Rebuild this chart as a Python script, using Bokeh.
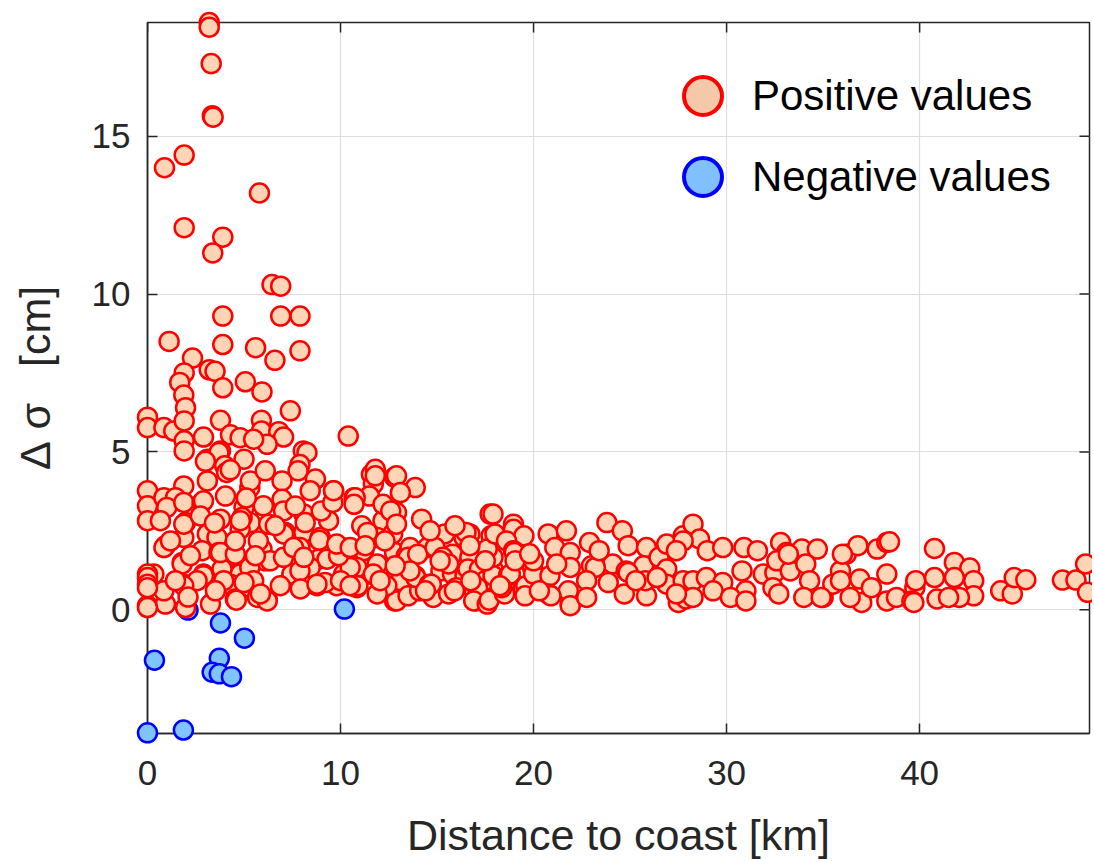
import math
from bokeh.plotting import figure
from bokeh.models import (Range1d, FixedTicker, Legend, LegendItem,
                          ColumnDataSource, CDSView, IndexFilter)
from bokeh.embed import file_html
from bokeh.resources import INLINE

# ---------------- data ----------------
pos_x = [
    # outliers / upper part
    3.2, 3.2, 3.3, 3.36, 3.4, 1.9, 0.88, 5.8, 1.9, 3.9, 3.38, 6.45, 6.9, 3.9, 6.9, 7.9,
    1.12, 3.9, 5.6, 7.9, 6.6, 2.33, 3.2, 3.5, 1.9, 1.67, 5.07, 3.9, 5.93, 1.88, 1.97, 7.4,
    # 5 - 6.5
    0.0, 0.0, 0.85, 1.36, 1.9, 1.9, 1.9, 2.9, 3.78, 4.3, 4.8, 5.9, 5.9, 6.8, 7.05, 6.2,
    5.5, 8.07, 3.78, 10.4, 8.26,
    # 3 - 5
    3.1, 3.7, 4.0, 4.1, 5.0, 7.9, 7.8, 3.1, 1.88, 6.97, 5.3, 0.0, 0.0, 0.0, 0.85, 1.45,
    1.0, 1.88, 2.83, 4.04, 5.0, 6.97, 6.0, 8.7, 9.64, 3.0, 2.9, 7.05, 8.1,
    # 2 - 3
    3.78, 5.33, 1.97, 1.88, 3.1, 4.9, 6.28, 1.88, 3.6, 4.8, 7.14, 8.1, 8.95, 9.38, 8.17,
    9.0, 9.6, 0.93, 7.05,
    # 1 - 2
    0.85, 2.83, 3.7, 4.47, 5.85, 7.9, 1.8, 0.33, 0.0, 2.9, 3.95, 5.25, 6.1, 7.5, 4.8, 5.93,
    8.86, 9.3, 7.48, 3.86, 3.78, 4.55, 6.36, 7.05, 7.57, 8.43, 7.9, 5.3, 0.0, 2.9, 1.8,
    # 0 - 1
    0.0, 1.88, 5.33, 4.3, 0.0, 0.93, 1.97, 3.26, 4.55, 6.2, 5.7, 0.85, 2.57, 8.78, 9.8,
    5.5, 6.2, 4.6, 0.0, 0.0, 1.88, 3.95, 5.0, 5.85, 9.2, 2.1,
    # extra, 0 - 10 km
    4.29, 5.33, 6.1, 5.12, 2.74, 3.47, 5.74, 1.19, 2.22, 4.55, 6.62, 7.66, 8.43, 5.59,
    6.88, 3.52, 7.92, 0.67, 1.45, 4.81,
    # 8 - 14 km
    10.0, 10.4, 10.85, 11.2, 11.5, 10.7, 11.1, 11.6, 11.7, 11.5, 12.2, 12.8, 12.8, 12.8,
    12.66, 12.8, 10.16, 10.85, 11.8, 11.8, 12.9, 13.87, 13.1, 10.76, 12.9, 14.2, 11.9,
    12.7, 10.07, 13.4, 11.9, 13.87, 10.9, 11.7, 12.9, 13.1, 10.5, 8.1, 8.9, 9.9, 10.0,
    12.4, 11.9, 13.5, 14.1, 10.7, 12.2, 12.6, 12.9, 11.4, 12.3, 13.6, 14.5, 9.8, 10.5,
    13.5, 14.0, 13.9, 8.78, 9.64,
    # 14 - 20 km
    17.75, 15.4, 16.4, 16.7, 17.8, 14.9, 15.8, 16.7, 17.9, 16.0, 14.6, 17.0, 14.8, 16.7,
    15.3, 15.2, 15.8, 16.45, 16.6, 17.2, 17.5, 17.1, 17.9, 17.6, 16.9, 17.6, 16.0, 15.6,
    16.5, 15.6, 14.7, 17.7, 17.9, 18.7, 18.5, 16.75, 17.9, 18.96, 18.96, 19.5, 18.0, 18.6,
    18.96, 18.8, 18.35, 19.47, 19.0, 19.95, 19.6,
    # extra, 10 - 20 km
    12.05, 13.6, 14.4, 15.16, 15.9, 16.7, 17.5, 18.26, 19.04, 19.56, 12.83, 11.28, 10.5,
    14.64, 15.93,
    # 20 - 30 km
    20.0, 20.0, 20.76, 21.7, 21.1, 21.9, 20.85, 20.76, 21.9, 21.9, 21.8, 22.9, 23.0, 23.8,
    24.1, 23.87, 24.6, 24.9, 24.8, 24.7, 25.85, 25.7, 25.85, 26.5, 26.9, 26.9, 26.9, 27.75,
    27.6, 27.75, 20.9, 21.9, 23.2, 24.9, 25.8, 27.5, 28.26, 28.6, 27.75, 29.0, 29.8, 28.26,
    28.95, 29.8, 27.9, 28.26, 29.3, 20.3, 19.8, 21.2, 22.75, 23.4, 22.75, 25.3, 27.4, 26.4,
    27.4,
    # 30 - 40 km
    30.9, 31.6, 32.8, 33.1, 33.9, 34.7, 36.2, 36.8, 37.8, 38.3, 30.8, 31.0, 31.9, 32.5,
    32.6, 33.3, 34.1, 34.3, 34.0, 35.0, 35.5, 35.9, 36.9, 37.0, 36.4, 37.5, 38.3, 30.2,
    31.0, 32.4, 32.7, 35.9, 36.0, 38.3, 38.8, 38.44, 39.75, 39.6, 33.2, 34.9,
    # 40 - 49 km
    40.77, 41.8, 42.6, 39.8, 40.77, 41.8, 42.8, 42.8, 42.06, 40.9, 39.7, 41.5, 44.2, 44.8,
    44.9, 45.5, 47.4, 48.1, 48.6, 48.7,
]
pos_y = [
    18.6, 18.45, 17.3, 15.65, 15.6, 14.4, 14.0, 13.2, 12.1, 11.8, 11.3, 10.3, 10.25, 9.3, 9.3, 9.3,
    8.5, 8.4, 8.3, 8.2, 7.9, 7.97, 7.6, 7.55, 7.5, 7.2, 7.22, 7.03, 6.9, 6.8, 6.4, 6.3,
    6.1, 5.77, 5.77, 5.66, 5.98, 5.35, 5.03, 5.47, 6.0, 5.54, 5.45, 6.0, 5.66, 5.64, 5.47, 5.24,
    5.4, 5.03, 5.03, 5.5, 4.98,
    4.77, 4.98, 4.56, 4.35, 4.77, 4.6, 4.4, 4.08, 3.92, 4.08, 3.87, 3.77, 3.29, 2.82, 3.55, 3.55,
    3.24, 3.4, 3.4, 3.6, 3.24, 3.5, 3.29, 4.14, 3.77, 4.7, 3.45, 3.13, 3.03,
    2.87, 2.76, 2.76, 2.29, 2.4, 2.92, 2.71, 2.71, 2.29, 2.55, 2.45, 2.45, 2.29, 2.82, 2.76,
    3.13, 3.4, 2.03, 2.4,
    1.97, 1.87, 1.81, 1.71, 1.87, 1.97, 1.5, 1.13, 1.13, 1.13, 1.23, 1.39, 1.55, 1.13, 1.13, 1.92,
    1.6, 1.6, 1.13, 1.29, 1.81, 1.76, 1.55, 1.66, 1.97, 1.34, 1.23, 1.34, 1.02, 1.08, 1.45,
    0.81, 0.81, 0.7, 0.81, 0.13, 0.18, 0.07, 0.18, 0.34, 0.34, 0.39, 0.6, 0.92, 0.76, 0.76,
    0.92, 0.28, 0.3, 0.07, 0.7, 0.76, 0.92, 0.86, 0.5, 0.86, 0.4,
    4.43, 4.08, 4.4, 3.54, 2.97, 2.75, 2.18, 2.18, 1.71, 2.18, 2.66, 3.29, 3.77, 1.71,
    0.76, 0.6, 0.66, 2.82, 0.92, 2.82,
    1.87, 1.81, 0.7, 1.87, 1.13, 3.55, 2.66, 4.29, 3.98, 3.6, 2.82, 4.2, 3.13, 1.81,
    0.92, 0.28, 1.13, 1.34, 4.45, 4.24, 4.24, 3.87, 3.71, 3.55, 3.08, 2.87, 2.29,
    2.4, 1.97, 1.71, 1.45, 1.08, 0.76, 1.13, 0.28, 0.92, 1.34, 1.66, 2.2, 1.71, 0.92,
    0.76, 0.5, 0.44, 0.6, 3.34, 3.34, 3.13, 2.71, 2.45, 2.18, 1.97, 1.97, 2.08, 1.97,
    1.66, 1.76, 1.02, 0.81, 3.77,
    3.03, 2.4, 2.29, 2.4, 2.34, 1.97, 1.76, 1.66, 1.29, 1.02, 0.81, 0.28, 0.39, 0.76,
    1.66, 1.23, 1.13, 1.08, 1.29, 1.29, 0.92, 0.7, 1.66, 1.92, 0.28, 0.18, 0.7, 0.5,
    2.45, 1.45, 0.81, 0.3, 1.08, 1.08, 0.5, 0.92, 3.03, 2.71, 2.55, 2.34, 2.4, 2.18,
    1.87, 1.13, 0.7, 0.7, 1.81, 1.34, 0.76,
    0.92, 1.23, 0.6, 1.55, 0.6, 2.03, 1.55, 0.76, 1.55, 0.44, 1.39, 2.03, 0.76,
    2.5, 2.66,
    1.13, 1.55, 2.4, 2.5, 1.97, 1.81, 1.08, 0.5, 1.34, 0.18, 0.6, 2.13, 1.39, 2.76,
    1.45, 0.86, 2.5, 2.03, 1.23, 0.5, 1.97, 1.39, 0.44, 1.66, 2.08, 1.29, 0.81, 2.34,
    0.28, 0.92, 0.44, 0.13, 1.34, 1.18, 0.92, 0.23, 2.71, 2.24, 2.18, 1.87, 1.97, 0.92,
    1.02, 0.86, 0.34, 0.39, 0.6, 0.6, 1.77, 1.45, 0.92, 1.87, 0.39, 0.92, 1.87, 1.02,
    0.5,
    1.97, 1.87, 2.13, 1.81, 1.92, 1.92, 1.76, 2.03, 1.92, 2.13, 1.23, 0.6, 1.13, 1.18,
    1.55, 1.23, 1.45, 0.92, 0.39, 0.39, 0.81, 1.23, 0.97, 0.23, 0.39, 0.7, 1.13, 0.39,
    0.28, 0.7, 0.5, 0.92, 1.76, 0.28, 0.39, 2.15, 0.7, 0.28, 1.76, 0.39,
    1.94, 1.5, 1.32, 0.92, 1.02, 1.02, 0.92, 0.44, 0.39, 0.34, 0.23, 0.39, 0.6, 0.5,
    1.02, 0.95, 0.94, 0.94, 1.45, 0.55,
]
neg_x = [2.1, 3.78, 5.02, 0.36, 3.72, 3.35, 3.72, 4.35, 0.0, 1.86, 10.2]
neg_y = [-0.01, -0.42, -0.9, -1.6, -1.54, -1.98, -2.03, -2.12, -3.9, -3.81, 0.02]

x_lo, x_hi = 0.0, 48.8
y_lo, y_hi = -3.92, 18.6
x_ticks = [0, 10, 20, 30, 40]
y_ticks = [0, 5, 10, 15]
x_label = "Distance to coast [km]"
y_label = "Δ\u00a0σ\u00a0\u00a0\u00a0[cm]"
legend_labels = ["Positive values", "Negative values"]

# ---------------- figure ----------------
FONT = "Liberation Sans"
DARK = "#262626"

p = figure(width=1092, height=861,
           x_range=Range1d(x_lo, x_hi), y_range=Range1d(y_lo, y_hi),
           output_backend="svg", toolbar_location=None,
           min_border_left=147, min_border_right=3,
           min_border_top=22, min_border_bottom=128)
p.background_fill_color = "white"
p.border_fill_color = "white"
p.outline_line_color = DARK
p.outline_line_width = 1.5

for ax, ticks in ((p.xaxis[0], x_ticks), (p.yaxis[0], y_ticks)):
    ax.ticker = FixedTicker(ticks=ticks)
    ax.major_tick_in = 10
    ax.major_tick_out = 0
    ax.minor_tick_line_color = None
    ax.axis_line_color = DARK
    ax.axis_line_width = 1.5
    ax.major_tick_line_color = DARK
    ax.major_tick_line_width = 1.5
    ax.major_label_text_font = FONT
    ax.major_label_text_font_size = "35px"
    ax.major_label_text_color = DARK
    ax.axis_label_text_font = FONT
    ax.axis_label_text_font_size = "43px"
    ax.axis_label_text_font_style = "normal"
    ax.axis_label_text_color = DARK

p.xaxis.axis_label = x_label
p.yaxis.axis_label = y_label
p.xaxis.major_label_standoff = 27
p.xaxis.axis_label_standoff = 23
p.yaxis.major_label_standoff = 17
p.yaxis.axis_label_standoff = 30

p.xgrid.ticker = FixedTicker(ticks=x_ticks)
p.ygrid.ticker = FixedTicker(ticks=y_ticks)
p.xgrid.grid_line_color = "#dedede"
p.ygrid.grid_line_color = "#dedede"
p.xgrid.grid_line_width = 1.2
p.ygrid.grid_line_width = 1.2

# inward ticks on the top and right edges of the box (clipped half of a dash)
p.scatter(x=x_ticks, y=[y_hi] * len(x_ticks), marker="dash", size=20,
          angle=math.pi / 2, line_color=DARK, line_width=1.5)
p.scatter(x=[x_hi] * len(y_ticks), y=y_ticks, marker="dash", size=20,
          angle=0, line_color=DARK, line_width=1.5)

pos_src = ColumnDataSource(dict(x=pos_x, y=pos_y))
neg_src = ColumnDataSource(dict(x=neg_x, y=neg_y))

# legend-style renderers: draw only one small point, hidden under the data marks
l_pos = p.scatter("x", "y", source=pos_src, view=CDSView(filter=IndexFilter([0])),
                  size=15, fill_color="#F4C8A8", line_color="#FF0000", line_width=4)
l_neg = p.scatter("x", "y", source=neg_src, view=CDSView(filter=IndexFilter([1])),
                  size=15, fill_color="#80C0FF", line_color="#0000FF", line_width=4)

r_neg = p.scatter("x", "y", source=neg_src, size=19, fill_color="#80C4FF",
                  line_color="#0000FF", line_width=2.5, level="overlay")
r_pos = p.scatter("x", "y", source=pos_src, size=19, fill_color="#FFD5B5",
                  line_color="#FF0000", line_width=2.5, level="overlay")

leg_kw = dict(orientation="vertical", glyph_width=95, glyph_height=95,
              label_standoff=2, padding=0, margin=0,
              border_line_color=None, background_fill_alpha=0,
              label_text_font=FONT, label_text_font_size="42px",
              label_text_color="black")
legend1 = Legend(items=[LegendItem(label=legend_labels[0], renderers=[l_pos], index=0)],
                 location=(508, 590), **leg_kw)
legend2 = Legend(items=[LegendItem(label=legend_labels[1], renderers=[l_neg], index=1)],
                 location=(508, 509), **leg_kw)
p.add_layout(legend1)
p.add_layout(legend2)

open("out.html", "w").write(file_html(p, INLINE))
